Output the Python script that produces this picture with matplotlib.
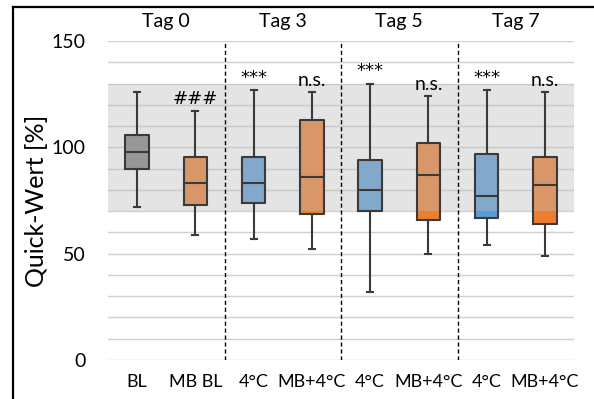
import matplotlib.pyplot as plt
from matplotlib.lines import Line2D
from matplotlib.ticker import MultipleLocator

# ── Daten ──────────────────────────────────────────────────
GROUPS   = ["BL", "MB BL", "4°C", "MB+4°C", "4°C", "MB+4°C", "4°C", "MB+4°C"]
DAYS     = ["Tag 0", "Tag 3", "Tag 5", "Tag 7"]
WHI_LO   = [72, 59, 57, 52, 32, 50, 54, 49]
Q1       = [90, 73, 74, 68.5, 70, 66, 67, 64]
MEDIAN   = [98, 83, 83, 86, 80, 87, 77, 82.5]
Q3       = [106, 95.5, 95.5, 113, 94, 102, 97, 95.5]
WHI_HI   = [126, 117, 127, 126, 130, 124, 127, 126]
MARKS    = ["", "###", "***", "n.s.", "***", "n.s.", "***", "n.s."]
COLORS   = ["#7f7f7f", "#ed7d31", "#5b9bd5", "#ed7d31",
            "#5b9bd5", "#ed7d31", "#5b9bd5", "#ed7d31"]
BAND     = (70, 130)
# ───────────────────────────────────────────────────────────

plt.rcParams["font.family"] = ["Lato", "DejaVu Sans"]

fig = plt.figure(figsize=(5.94, 3.99), dpi=100)
ax = fig.add_axes([108 / 594, 1 - 360 / 399, 466 / 594, 319 / 399])

stats = []
for i in range(len(GROUPS)):
    stats.append({"whislo": WHI_LO[i], "q1": Q1[i], "med": MEDIAN[i],
                  "q3": Q3[i], "whishi": WHI_HI[i], "fliers": []})

pos = list(range(len(GROUPS)))
edge = "#3a3a3a"

# 1) nur Flaechen der Boxen (unter dem grauen Band)
fill = ax.bxp(stats, positions=pos, widths=0.4, patch_artist=True,
              showfliers=False, showcaps=False,
              boxprops=dict(linewidth=0, zorder=2),
              medianprops=dict(linewidth=0),
              whiskerprops=dict(linewidth=0))
for patch, c in zip(fill["boxes"], COLORS):
    patch.set_facecolor(c)

# grauer Referenzbereich, liegt halbtransparent ueber den Flaechen
ax.axhspan(BAND[0], BAND[1], color="#bdbdbd", alpha=0.4, lw=0, zorder=3)

# 2) Linien der Boxplots oben drauf
lw = 1.5
ax.bxp(stats, positions=pos, widths=0.4, showfliers=False,
       boxprops=dict(color=edge, linewidth=lw, zorder=5),
       medianprops=dict(color=edge, linewidth=lw, zorder=5),
       whiskerprops=dict(color=edge, linewidth=lw, zorder=5),
       capprops=dict(color=edge, linewidth=lw, zorder=5),
       capwidths=0.1)

# Trennlinien zwischen den Tagen
for x in [1.5, 3.5, 5.5]:
    ax.plot([x, x], [0, 150], color="black", lw=1, ls=(0, (3, 2)), zorder=6)

# Signifikanz-Markierungen
for i, m in enumerate(MARKS):
    if m:
        fam = ["DejaVu Sans"] if m != "n.s." else ["Lato"]
        fs = 13 if m != "n.s." else 14
        ax.text(pos[i], WHI_HI[i] + 1.5, m, ha="center", va="bottom",
                fontsize=fs, family=fam, zorder=7)

# Tag-Beschriftungen oben
for k, d in enumerate(DAYS):
    ax.text(2 * k + 0.5, 1.035, d, transform=ax.get_xaxis_transform(),
            ha="center", va="bottom", fontsize=14)

ax.set_xlim(-0.5, len(GROUPS) - 0.5)
ax.set_ylim(0, 150)
ax.yaxis.set_major_locator(MultipleLocator(50))
ax.yaxis.set_minor_locator(MultipleLocator(10))
ax.grid(True, which="both", axis="y", color="#d0d0d0", lw=1, zorder=0)
ax.set_axisbelow(True)
ax.set_xticks(pos)
ax.set_xticklabels(GROUPS, fontsize=13)
ax.tick_params(axis="both", which="both", length=0)
ax.tick_params(axis="y", labelsize=14, pad=16)
ax.tick_params(axis="x", pad=10)
for s in ax.spines.values():
    s.set_visible(False)
ax.set_ylabel("Quick-Wert [%]", fontsize=18, labelpad=3)

# Rahmen um die Grafik (rechts/unten abgeschnitten)
fig.add_artist(Line2D([13 / 594, 13 / 594], [0, 1 - 7 / 399],
                      transform=fig.transFigure, color="black", lw=1.6))
fig.add_artist(Line2D([13 / 594, 1], [1 - 7 / 399, 1 - 7 / 399],
                      transform=fig.transFigure, color="black", lw=1.6))

fig.savefig("out.png", dpi=100)
